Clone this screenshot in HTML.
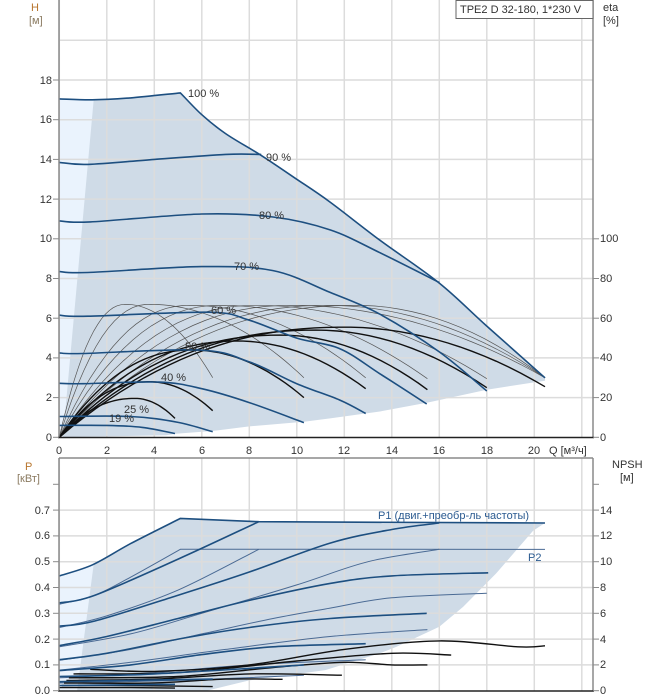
<!DOCTYPE html>
<html><head><meta charset="utf-8">
<style>
html,body{margin:0;padding:0;background:#fff;}
svg{display:block;font-family:"Liberation Sans",sans-serif;}
</style></head>
<body>
<svg id="s" width="658" height="700" viewBox="0 0 658 700" xmlns="http://www.w3.org/2000/svg">
<g id="bg"></g>
<g id="grid" stroke="#dcdcdc" stroke-width="1.5" fill="none"></g>
<g id="curves" fill="none"></g>
<g id="axes" stroke="#8a8a8a" stroke-width="1.5"></g>
<g font-size="11" fill="#333">
<text x="52" y="441" text-anchor="end">0</text>
<text x="52" y="401" text-anchor="end">2</text>
<text x="52" y="361" text-anchor="end">4</text>
<text x="52" y="322" text-anchor="end">6</text>
<text x="52" y="282" text-anchor="end">8</text>
<text x="52" y="242" text-anchor="end">10</text>
<text x="52" y="203" text-anchor="end">12</text>
<text x="52" y="163" text-anchor="end">14</text>
<text x="52" y="123" text-anchor="end">16</text>
<text x="52" y="84" text-anchor="end">18</text>
<text x="600" y="441">0</text>
<text x="600" y="401">20</text>
<text x="600" y="361">40</text>
<text x="600" y="322">60</text>
<text x="600" y="282">80</text>
<text x="600" y="242">100</text>
<text x="59" y="454" text-anchor="middle">0</text>
<text x="107" y="454" text-anchor="middle">2</text>
<text x="154" y="454" text-anchor="middle">4</text>
<text x="202" y="454" text-anchor="middle">6</text>
<text x="249" y="454" text-anchor="middle">8</text>
<text x="297" y="454" text-anchor="middle">10</text>
<text x="344" y="454" text-anchor="middle">12</text>
<text x="392" y="454" text-anchor="middle">14</text>
<text x="439" y="454" text-anchor="middle">16</text>
<text x="487" y="454" text-anchor="middle">18</text>
<text x="534" y="454" text-anchor="middle">20</text>
<text x="549" y="454">Q [м³/ч]</text>
<text x="50" y="694" text-anchor="end">0.0</text>
<text x="50" y="668" text-anchor="end">0.1</text>
<text x="50" y="643" text-anchor="end">0.2</text>
<text x="50" y="617" text-anchor="end">0.3</text>
<text x="50" y="591" text-anchor="end">0.4</text>
<text x="50" y="565" text-anchor="end">0.5</text>
<text x="50" y="539" text-anchor="end">0.6</text>
<text x="50" y="514" text-anchor="end">0.7</text>
<text x="600" y="694">0</text>
<text x="600" y="668">2</text>
<text x="600" y="643">4</text>
<text x="600" y="617">6</text>
<text x="600" y="591">8</text>
<text x="600" y="565">10</text>
<text x="600" y="539">12</text>
<text x="600" y="514">14</text>
<text x="188" y="97">100 %</text>
<text x="266" y="161">90 %</text>
<text x="259" y="219">80 %</text>
<text x="234" y="270">70 %</text>
<text x="211" y="314">60 %</text>
<text x="185" y="350">50 %</text>
<text x="161" y="381">40 %</text>
<text x="124" y="413">25 %</text>
<text x="109" y="422">19 %</text>
<text x="603" y="11">eta</text>
<text x="603" y="24">[%]</text>
<text x="612" y="468">NPSH</text>
<text x="620" y="481">[м]</text>
</g>
<g font-size="11">
<text x="31" y="11" fill="#b8762e">H</text>
<text x="29" y="24" fill="#8a7a60">[м]</text>
<text x="25" y="470" fill="#b8762e">P</text>
<text x="17" y="482" fill="#8a7a60">[кВт]</text>
<text x="378" y="519" fill="#2a5a90">P1 (двиг.+преобр-ль частоты)</text>
<text x="528" y="561" fill="#2a5a90">P2</text>
</g>
<rect x="456" y="0.5" width="137" height="18" fill="#fff" stroke="#666" stroke-width="1"/>
<text x="460" y="13" font-size="11" fill="#333">TPE2 D 32-180, 1*230 V</text>
</svg>
<script>
var NS="http://www.w3.org/2000/svg";
function X(q){return 59.3+23.75*q;}
function YH(h){return 437.3-19.85*h;}
function YP(p){return 690.7-258*p;}
function el(g,t,a){var e=document.createElementNS(NS,t);for(var k in a)e.setAttribute(k,a[k]);document.getElementById(g).appendChild(e);return e;}
function smooth(pts,cont){
 var d=(cont?"L":"M")+pts[0][0].toFixed(1)+","+pts[0][1].toFixed(1);
 for(var i=0;i<pts.length-1;i++){
  var p0=pts[i-1]||pts[i],p1=pts[i],p2=pts[i+1],p3=pts[i+2]||p2;
  var c1=[p1[0]+(p2[0]-p0[0])/6,p1[1]+(p2[1]-p0[1])/6];
  var c2=[p2[0]-(p3[0]-p1[0])/6,p2[1]-(p3[1]-p1[1])/6];
  d+="C"+c1[0].toFixed(1)+","+c1[1].toFixed(1)+" "+c2[0].toFixed(1)+","+c2[1].toFixed(1)+" "+p2[0].toFixed(1)+","+p2[1].toFixed(1);
 }return d;}
function H(pts){return pts.map(function(p){return [X(p[0]),YH(p[1])];});}
function P(pts){return pts.map(function(p){return [X(p[0]),YP(p[1])];});}
function poly(pts){return "M"+pts.map(function(p){return p[0].toFixed(1)+","+p[1].toFixed(1);}).join("L")+"Z";}

for(var q=0;q<=22;q+=2){el("grid","line",{x1:X(q),y1:0,x2:X(q),y2:437});el("grid","line",{x1:X(q),y1:458,x2:X(q),y2:691});}
for(var h=2;h<=20;h+=2){el("grid","line",{x1:59,y1:YH(h),x2:593,y2:YH(h)});}
for(var p=1;p<=7;p++){el("grid","line",{x1:59,y1:YP(p/10),x2:593,y2:YP(p/10)});}

var env=[[5.1,17.35],[6,16.25],[7,15.3],[8.5,14.2],[10,13.0],[11.4,11.85],[13.5,9.93],[16,7.77],[18,5.6],[20.45,3.0]];
var top100=[[0,17.05],[1.4,17.0],[3,17.1],[5.1,17.35]];
var bot=[[20.45,2.85],[18,2.4],[15.5,1.75],[13.5,1.3],[11.4,0.95],[10.3,0.78],[8,0.55],[6.5,0.32],[4.9,0.18],[4.5,0.1],[0,0]];
el("bg","path",{d:poly(H(top100.concat(env.slice(1)).concat(bot))),fill:"#cfdbe7"});
el("bg","path",{d:poly([[X(0),YH(17.05)],[X(1.45),YH(17.0)],[X(0.15),YH(0)],[X(0),YH(0)]]),fill:"#eaf3fd"});
var pt=[[0,0.445],[1.4,0.488],[3,0.57],[5.1,0.668],[8.4,0.655],[20.45,0.65]];
var pb=[[20.45,0.65],[19.95,0.62],[18.4,0.455],[17,0.325],[16,0.248],[14.2,0.17],[13.5,0.145],[11.2,0.08],[8,0.04],[6.2,0],[0,0]];
el("bg","path",{d:poly(P(pt.concat(pb))),fill:"#cfdbe7"});
el("bg","path",{d:poly([[X(0),YP(0.445)],[X(1.45),YP(0.49)],[X(0.75),YP(0)],[X(0),YP(0)]]),fill:"#eaf3fd"});

function eff(qp,hp,qe,he){var pts=[],c=(hp-he)/Math.pow(qe-qp,2);
 for(var i=0;i<=40;i++){var q=qe*i/40,v;
  if(q<=qp){var x=q/qp;v=hp*(1-Math.pow(1-x,2.2));}else v=hp-c*(q-qp)*(q-qp);
  pts.push([X(q),YH(v)]);}
 return pts;}
function line(pts){return "M"+pts.map(function(p){return p[0].toFixed(1)+","+p[1].toFixed(1);}).join("L");}
var gray=[[2.8,6.7,6.46,3.0],[3.8,6.7,10.3,3.0],[5.5,6.65,12.9,3.0],[6.8,6.65,15.5,2.95],[8.3,6.65,18,2.95],[9.8,6.65,20.45,3.0],[11.3,6.65,20.45,3.0],[12.5,6.65,20.45,3.0]];
gray.forEach(function(g){el("curves","path",{d:line(eff.apply(null,g)),stroke:"#555","stroke-width":0.7});});
var blk=[[3.2,1.96,4.87,0.95],[3.8,2.8,6.46,1.34],[5.6,4.4,10.3,2.0],[7.5,4.85,12.9,2.45],[9.3,5.15,15.5,2.4],[10.8,5.4,18,2.5],[12,5.55,20.45,2.55]];
blk.forEach(function(g){el("curves","path",{d:line(eff.apply(null,g)),stroke:"#111","stroke-width":1.4});});
var B="#1d4f80";
el("curves","path",{d:smooth(H(top100))+smooth(H(env),true),stroke:B,"stroke-width":1.6});
var sp=[
[[0,13.85],[1.2,13.75],[4,14.0],[7,14.25],[8.5,14.25]],
[[0,10.9],[1.3,10.85],[6,11.25],[9,11.1],[11.4,10.45],[13.5,9.3],[16,7.8]],
[[0,8.35],[1.2,8.3],[6,8.6],[9,8.4],[11.4,7.3],[13.5,6.2],[16,4.3],[18,2.33]],
[[0,6.15],[1.2,6.1],[6.3,6.3],[8,5.9],[10,5.0],[11.8,4.47],[13.5,3.2],[15.47,1.68]],
[[0,4.25],[1,4.22],[5.9,4.4],[8,3.8],[10,2.7],[11.8,1.88],[12.9,1.2]],
[[0,2.72],[1,2.7],[4.2,2.78],[6,2.45],[8,1.75],[10.3,0.74]],
[[0,1.05],[3,1.05],[5,0.75],[6.46,0.28]],
[[0,0.6],[2,0.6],[3.5,0.5],[4.87,0.19]]];
sp.forEach(function(s){el("curves","path",{d:smooth(H(s)),stroke:B,"stroke-width":1.6});});

// P2 100%: curve then straight
el("curves","path",{d:smooth(P([[0,0.335],[1.5,0.37],[3,0.44],[5.1,0.548]]))+"L"+X(20.45)+","+YP(0.548),stroke:"#4a6a94","stroke-width":1});
var p2=[
[[0,0.245],[2,0.29],[5,0.39],[8.4,0.548]],
[[0,0.17],[3,0.22],[6,0.3],[10,0.41],[13,0.5],[16,0.548]],
[[0,0.118],[3,0.16],[6,0.22],[9,0.28],[11.4,0.32],[14,0.36],[18,0.378]],
[[0,0.08],[3,0.11],[7,0.16],[11.4,0.21],[15.5,0.237]],
[[0,0.05],[4,0.07],[8,0.1],[12.9,0.12]],
[[0,0.03],[5,0.04],[10.3,0.06]]];
p2.forEach(function(s){el("curves","path",{d:smooth(P(s)),stroke:"#4a6a94","stroke-width":1});});
var np=[[[1.3,0.083],[4,0.075],[8,0.1],[12,0.16],[16,0.193],[19.3,0.17],[20.45,0.174]],
[[0.6,0.065],[5,0.07],[10,0.115],[14,0.145],[16.5,0.138]],
[[0.4,0.05],[5,0.055],[9,0.09],[12,0.11],[14,0.1],[15.5,0.1]],
[[0.3,0.04],[4,0.045],[8,0.065],[11.9,0.06]],
[[0.2,0.03],[4,0.03],[7,0.045],[9.4,0.044]],
[[0.1,0.02],[3,0.02],[6.46,0.016]],
[[0,0.012],[3,0.012],[4.87,0.01]]];
np.forEach(function(s){el("curves","path",{d:smooth(P(s)),stroke:"#111","stroke-width":1.4});});
// P1 100%: curve then straight lines
el("curves","path",{d:smooth(P([[0,0.445],[1.4,0.488],[3,0.57],[5.1,0.668]]))+"L"+X(8.4)+","+YP(0.655)+"L"+X(20.45)+","+YP(0.65),stroke:B,"stroke-width":1.6});
var p1=[
[[0,0.34],[1.5,0.37],[5,0.51],[8.4,0.655]],
[[0,0.25],[1.5,0.27],[5,0.37],[8,0.46],[11.4,0.572],[14,0.625],[16,0.65]],
[[0,0.175],[2,0.21],[5,0.28],[8,0.35],[11.4,0.416],[14,0.445],[18.06,0.457]],
[[0,0.12],[2,0.145],[5,0.2],[8,0.245],[11.4,0.28],[15.47,0.30]],
[[0,0.078],[3,0.1],[6,0.14],[9,0.17],[12.9,0.182]],
[[0,0.055],[4,0.065],[10.3,0.1]],
[[0,0.035],[3,0.04],[6.46,0.045]],
[[0,0.02],[4.87,0.025]]];
p1.forEach(function(s){el("curves","path",{d:smooth(P(s)),stroke:B,"stroke-width":1.6});});

el("axes","line",{x1:59,y1:0,x2:59,y2:437.5});
el("axes","line",{x1:593,y1:0,x2:593,y2:437.5});
el("axes","line",{x1:58,y1:437.5,x2:594,y2:437.5,stroke:"#222"});
el("axes","line",{x1:59,y1:458,x2:59,y2:691});
el("axes","line",{x1:593,y1:458,x2:593,y2:691});
el("axes","line",{x1:59,y1:458,x2:593,y2:458});
el("axes","line",{x1:58,y1:691,x2:594,y2:691,stroke:"#222"});
for(var h2=0;h2<=18;h2+=2)el("axes","line",{x1:53,y1:YH(h2),x2:59,y2:YH(h2),"stroke-width":1});
for(var e=0;e<=10;e+=2)el("axes","line",{x1:593,y1:YH(e),x2:599,y2:YH(e),"stroke-width":1});
for(var p3=0;p3<=8;p3++){el("axes","line",{x1:53,y1:YP(p3/10),x2:59,y2:YP(p3/10),"stroke-width":1});el("axes","line",{x1:593,y1:YP(p3/10),x2:599,y2:YP(p3/10),"stroke-width":1});}
</script>
</body></html>
